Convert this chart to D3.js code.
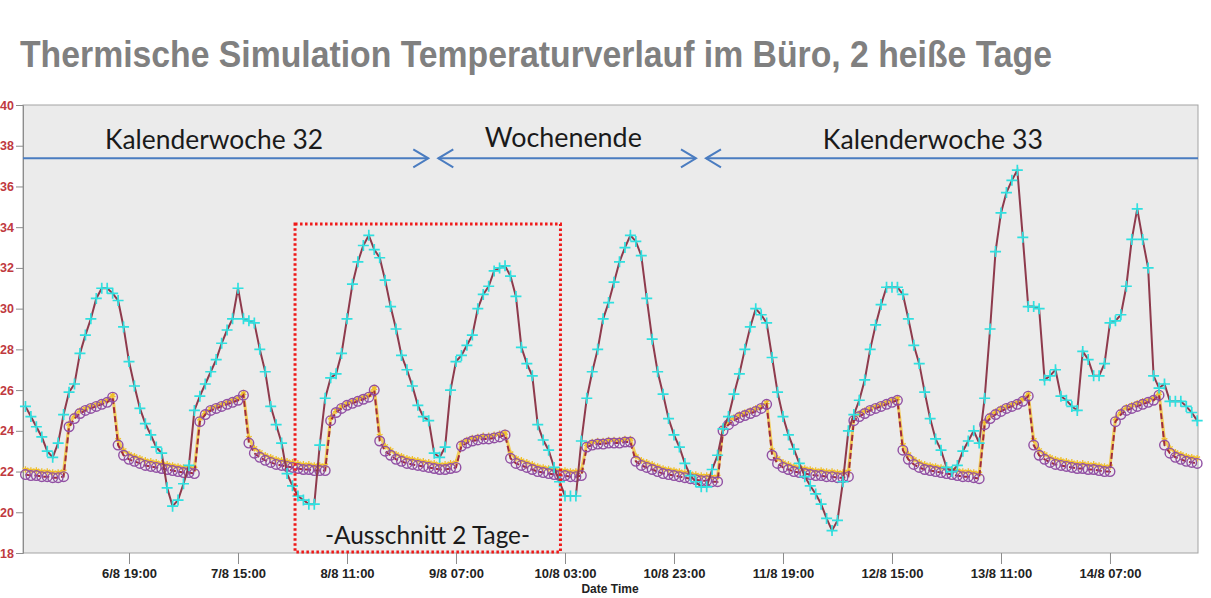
<!DOCTYPE html>
<html>
<head>
<meta charset="utf-8">
<script src="https://cdn.jsdelivr.net/npm/d3@7"></script>
<style>
  body { margin: 0; background: #fff; }
  svg { display: block; }
</style>
</head>
<body>
<div id="chart"></div>
<script>
// hourly values from 6/8 00:00, one row per day
var tempAussen = [
  25.2, 24.7, 24.2, 23.7, 23.0, 22.7, 23.4, 24.8, 25.9, 26.3, 27.8, 28.7, 29.5, 30.5, 31.0, 31.0, 30.75, 30.4, 29.1, 27.4, 26.2, 25.1, 24.35, 23.8,
  23.2, 22.9, 21.2, 20.3, 20.6, 21.4, 22.3, 25.0, 25.7, 26.3, 26.9, 27.5, 28.3, 28.95, 29.5, 31.0, 29.5, 29.4, 29.3, 28.0, 26.9, 25.2, 24.3, 23.4,
  21.9, 21.3, 20.8, 20.6, 20.4, 20.4, 23.3, 25.6, 26.6, 26.8, 27.8, 29.5, 31.2, 32.3, 33.1, 33.6, 32.9, 32.5, 31.4, 30.1, 29.0, 27.7, 27.0, 26.2,
  25.25, 24.7, 24.5, 22.9, 22.7, 23.2, 26.0, 27.4, 27.7, 28.2, 28.7, 30.0, 30.7, 31.1, 31.85, 32.0, 32.1, 31.6, 30.6, 28.1, 27.3, 26.7, 24.3, 23.55,
  23.05, 22.2, 21.5, 20.8, 20.8, 20.8, 23.5, 25.6, 26.9, 28.0, 29.5, 30.3, 31.3, 32.3, 33.0, 33.6, 33.3, 32.6, 30.5, 28.5, 26.9, 25.8, 24.6, 23.8,
  23.2, 22.4, 21.8, 21.5, 21.25, 21.25, 22.1, 22.8, 24.1, 24.7, 25.8, 26.8, 28.0, 29.1, 30.0, 29.7, 29.3, 27.6, 25.9, 24.7, 23.8, 23.1, 22.4, 21.75,
  21.3, 20.9, 20.4, 19.7, 19.1, 19.6, 21.5, 24.0, 24.8, 25.5, 26.5, 28.0, 29.2, 30.2, 31.05, 31.05, 31.05, 30.7, 29.5, 28.2, 27.3, 25.9, 24.6, 23.6,
  23.05, 22.2, 22.0, 22.3, 23.0, 23.5, 24.0, 23.4, 25.6, 29.0, 32.8, 34.7, 35.7, 36.3, 36.8, 33.5, 30.1, 30.1, 30.0, 26.5, 26.7, 27.0, 25.7, 25.5,
  25.2, 25.0, 27.9, 27.5, 26.7, 26.7, 27.3, 29.3, 29.4, 29.7, 31.1, 33.4, 34.9, 33.4, 32.0, 26.7, 26.1, 26.3, 25.45, 25.45, 25.45, 25.2, 24.9, 24.5
];

var tempRaum = [
  21.85, 21.8, 21.8, 21.75, 21.75, 21.7, 21.7, 21.75, 24.2, 24.6, 24.85, 25.0, 25.1, 25.2, 25.3, 25.4, 25.65, 23.3, 22.8, 22.6, 22.5, 22.4, 22.3, 22.25,
  22.2, 22.15, 22.1, 22.05, 22.0, 21.95, 21.95, 21.9, 24.45, 24.8, 25.0, 25.1, 25.2, 25.3, 25.4, 25.5, 25.75, 23.4, 22.9, 22.7, 22.55, 22.45, 22.35, 22.3,
  22.25, 22.2, 22.15, 22.1, 22.1, 22.05, 22.05, 22.05, 24.5, 24.9, 25.1, 25.25, 25.35, 25.45, 25.55, 25.65, 26.0, 23.5, 23.0, 22.8, 22.6, 22.5, 22.4, 22.35,
  22.3, 22.25, 22.2, 22.15, 22.1, 22.1, 22.15, 22.2, 23.25, 23.4, 23.5, 23.55, 23.6, 23.6, 23.65, 23.7, 23.8, 22.65, 22.4, 22.3, 22.2, 22.1, 22.0, 21.95,
  21.9, 21.85, 21.8, 21.8, 21.75, 21.75, 21.8, 23.2, 23.3, 23.35, 23.35, 23.4, 23.4, 23.4, 23.45, 23.45, 22.5, 22.3, 22.2, 22.1, 22.0, 21.9, 21.85, 21.8,
  21.75, 21.7, 21.65, 21.6, 21.55, 21.55, 21.5, 21.5, 24.0, 24.3, 24.5, 24.65, 24.75, 24.85, 24.95, 25.1, 25.3, 22.8, 22.4, 22.2, 22.1, 22.0, 21.95, 21.9,
  21.85, 21.8, 21.8, 21.75, 21.75, 21.7, 21.7, 21.75, 24.5, 24.7, 24.85, 25.0, 25.1, 25.2, 25.3, 25.4, 25.5, 23.05, 22.6, 22.35, 22.2, 22.1, 22.05, 22.0,
  21.95, 21.9, 21.85, 21.8, 21.75, 21.75, 21.7, 21.65, 24.3, 24.6, 24.8, 24.95, 25.1, 25.2, 25.3, 25.45, 25.7, 23.3, 22.8, 22.6, 22.45, 22.35, 22.3, 22.25,
  22.2, 22.15, 22.15, 22.1, 22.1, 22.05, 22.0, 22.0, 24.45, 24.8, 25.0, 25.1, 25.2, 25.3, 25.4, 25.5, 25.75, 23.3, 22.9, 22.7, 22.6, 22.5, 22.45, 22.4
];

var tempLuft = [
  22.1, 22.05, 22.05, 22.0, 22.0, 21.95, 21.95, 22.0, 24.35, 24.75, 25.0, 25.1, 25.2, 25.3, 25.4, 25.5, 25.75, 23.55, 23.05, 22.85, 22.75, 22.65, 22.55, 22.5,
  22.45, 22.4, 22.35, 22.3, 22.25, 22.2, 22.2, 22.15, 24.6, 24.9, 25.1, 25.2, 25.3, 25.4, 25.5, 25.6, 25.85, 23.65, 23.15, 22.95, 22.8, 22.7, 22.6, 22.55,
  22.5, 22.45, 22.4, 22.35, 22.35, 22.3, 22.3, 22.3, 24.65, 25.0, 25.2, 25.35, 25.45, 25.55, 25.65, 25.75, 26.1, 23.75, 23.25, 23.05, 22.85, 22.75, 22.65, 22.6,
  22.55, 22.5, 22.45, 22.4, 22.35, 22.35, 22.4, 22.45, 23.4, 23.55, 23.65, 23.7, 23.75, 23.75, 23.8, 23.85, 23.9, 22.9, 22.65, 22.55, 22.45, 22.35, 22.25, 22.2,
  22.15, 22.1, 22.05, 22.05, 22.0, 22.0, 22.05, 23.35, 23.45, 23.5, 23.5, 23.55, 23.55, 23.55, 23.6, 23.6, 22.75, 22.55, 22.45, 22.35, 22.25, 22.15, 22.1, 22.05,
  22.0, 21.95, 21.9, 21.85, 21.8, 21.8, 21.75, 21.75, 24.15, 24.45, 24.65, 24.8, 24.9, 25.0, 25.1, 25.2, 25.4, 23.05, 22.65, 22.45, 22.35, 22.25, 22.2, 22.15,
  22.1, 22.05, 22.05, 22.0, 22.0, 21.95, 21.95, 22.0, 24.65, 24.85, 25.0, 25.1, 25.2, 25.3, 25.4, 25.5, 25.6, 23.3, 22.85, 22.6, 22.45, 22.35, 22.3, 22.25,
  22.2, 22.15, 22.1, 22.05, 22.0, 22.0, 21.95, 21.9, 24.45, 24.75, 24.95, 25.1, 25.2, 25.3, 25.4, 25.55, 25.8, 23.55, 23.05, 22.85, 22.7, 22.6, 22.55, 22.5,
  22.45, 22.4, 22.4, 22.35, 22.35, 22.3, 22.25, 22.25, 24.6, 24.95, 25.15, 25.25, 25.35, 25.45, 25.5, 25.6, 25.85, 23.55, 23.15, 22.95, 22.85, 22.75, 22.7, 22.65
];

var xTickLabels = ["6/8 19:00", "7/8 15:00", "8/8 11:00", "9/8 07:00", "10/8 03:00",
                   "10/8 23:00", "11/8 19:00", "12/8 15:00", "13/8 11:00", "14/8 07:00"];
var yTicks = [18, 20, 22, 24, 26, 28, 30, 32, 34, 36, 38, 40];

// annotations (time, temperature)
var wochenLabels = [
  { text: "Kalenderwoche 32", t: "7/8 10:36", v: 37.82, w: 218 },
  { text: "Wochenende", t: "10/8 02:42", v: 37.92, w: 157 },
  { text: "Kalenderwoche 33", t: "12/8 22:30", v: 37.83, w: 220 }
];
var wochenPfeile = [
  { from: "5/8 23:33", to: "9/8 01:55", start: false, end: true },
  { from: "9/8 03:45", to: "11/8 03:02", start: true, end: true },
  { from: "11/8 04:52", to: "14/8 23:09", start: true, end: false }
];
var pfeilTemp = 37.38;
var ausschnitt = { from: "8/8 01:28", to: "10/8 02:10", top: 34.16, bottom: 18.05 };

var width = 1211, height = 598;
var plot = { left: 23, right: 1198, top: 105, bottom: 553 };

var parseT = function(s) { return d3.timeParse("%d/%m/%Y %H:%M")(s.replace(" ", "/2014 ")); };
var start = parseT("6/8 00:00");
var zeit = tempAussen.map(function(d, i) { return d3.timeHour.offset(start, i); });

var svg = d3.select("#chart").append("svg")
    .attr("width", width)
    .attr("height", height);

var x = d3.scaleTime()
    .domain([parseT("5/8 23:33"), parseT("14/8 23:09")])
    .range([plot.left, plot.right]);
var y = d3.scaleLinear()
    .domain([18, 40])
    .range([plot.bottom, plot.top]);

// title
svg.append("text")
    .attr("x", 20).attr("y", 67)
    .attr("textLength", 1032)
    .attr("lengthAdjust", "spacingAndGlyphs")
    .style("font-family", "'Liberation Sans', Arial, sans-serif")
    .style("font-weight", "bold")
    .style("font-size", "37px")
    .style("fill", "#808080")
    .text("Thermische Simulation Temperaturverlauf im Büro, 2 heiße Tage");

// plot background
svg.append("rect")
    .attr("x", plot.left).attr("y", plot.top)
    .attr("width", plot.right - plot.left).attr("height", plot.bottom - plot.top)
    .attr("fill", "#ebebeb")
    .attr("stroke", "#a3a3a3");

// y axis
var yAxis = svg.append("g")
    .attr("transform", "translate(" + plot.left + ",0)")
    .call(d3.axisLeft(y).tickValues(yTicks).tickSize(7).tickPadding(2).tickFormat(d3.format("d")));
yAxis.select(".domain").attr("stroke", "#8c8c8c");
yAxis.selectAll(".tick line").attr("stroke", "#8c8c8c");
yAxis.selectAll(".tick text")
    .style("font-family", "'Liberation Sans', Arial, sans-serif")
    .style("font-weight", "bold")
    .style("font-size", "12.5px")
    .attr("fill", "#c0393f");

// x axis
var xAxis = svg.append("g")
    .attr("transform", "translate(0," + plot.bottom + ")")
    .call(d3.axisBottom(x).tickValues(xTickLabels.map(parseT)).tickSize(11).tickPadding(5)
      .tickFormat(function(d) { return d3.timeFormat("%-d/%-m %H:%M")(d); }));
xAxis.select(".domain").remove();
xAxis.selectAll(".tick line").attr("stroke", "#8c8c8c");
xAxis.selectAll(".tick text")
    .style("font-family", "'Liberation Sans', Arial, sans-serif")
    .style("font-weight", "bold")
    .style("font-size", "13px")
    .attr("fill", "#222");

svg.append("text")
    .attr("x", 610).attr("y", 593)
    .attr("text-anchor", "middle")
    .style("font-family", "'Liberation Sans', Arial, sans-serif")
    .style("font-weight", "bold")
    .style("font-size", "12px")
    .style("fill", "#222")
    .text("Date Time");

// series
var g = svg.append("g");

var linie = d3.line()
    .x(function(d, i) { return x(zeit[i]); })
    .y(function(d) { return y(d); });

g.append("path")
    .datum(tempLuft)
    .attr("d", linie)
    .attr("fill", "none")
    .attr("stroke", "#f2c335")
    .attr("stroke-width", 3)
    .attr("opacity", 0.8);

g.selectAll(".luft")
    .data(tempLuft)
    .enter().append("path")
    .attr("class", "luft")
    .attr("transform", function(d, i) { return "translate(" + x(zeit[i]) + "," + y(d) + ")"; })
    .attr("d", d3.symbol(d3.symbolAsterisk, 30))
    .attr("fill", "none")
    .attr("stroke", "#f0bf2a")
    .attr("stroke-width", 1.3);

g.append("path")
    .datum(tempRaum)
    .attr("d", linie)
    .attr("fill", "none")
    .attr("stroke", "#a02c3c")
    .attr("stroke-width", 2)
    .attr("stroke-dasharray", "6,3");

g.selectAll(".raum")
    .data(tempRaum)
    .enter().append("circle")
    .attr("class", "raum")
    .attr("cx", function(d, i) { return x(zeit[i]); })
    .attr("cy", function(d) { return y(d); })
    .attr("r", 4.8)
    .attr("fill", "none")
    .attr("stroke", "#9150a4")
    .attr("stroke-width", 1.4);

g.append("path")
    .datum(tempAussen)
    .attr("d", linie)
    .attr("fill", "none")
    .attr("stroke", "#8e3a4c")
    .attr("stroke-width", 2);

g.selectAll(".aussen")
    .data(tempAussen)
    .enter().append("path")
    .attr("class", "aussen")
    .attr("transform", function(d, i) { return "translate(" + x(zeit[i]) + "," + y(d) + ")"; })
    .attr("d", "M-5.5,0H5.5M0,-5.5V5.5")
    .attr("stroke", "#2fe0e0")
    .attr("stroke-width", 1.7);

// week arrows
var blau = "#4a7cc0";
wochenPfeile.forEach(function(p) {
  var x0 = x(parseT(p.from)), x1 = x(parseT(p.to)), yy = y(pfeilTemp);
  svg.append("line")
      .attr("x1", x0).attr("x2", x1).attr("y1", yy).attr("y2", yy)
      .attr("stroke", blau).attr("stroke-width", 2);
  if (p.end) {
    svg.append("path")
        .attr("d", "M" + (x1 - 15) + "," + (yy - 9) + "L" + x1 + "," + yy + "L" + (x1 - 15) + "," + (yy + 9))
        .attr("fill", "none").attr("stroke", blau).attr("stroke-width", 2);
  }
  if (p.start) {
    svg.append("path")
        .attr("d", "M" + (x0 + 15) + "," + (yy - 9) + "L" + x0 + "," + yy + "L" + (x0 + 15) + "," + (yy + 9))
        .attr("fill", "none").attr("stroke", blau).attr("stroke-width", 2);
  }
});

wochenLabels.forEach(function(l) {
  svg.append("text")
      .attr("x", x(parseT(l.t)) - l.w / 2)
      .attr("y", y(l.v))
      .attr("textLength", l.w)
      .attr("lengthAdjust", "spacingAndGlyphs")
      .style("font-family", "Lato, 'Open Sans', sans-serif")
      .style("font-size", "27px")
      .style("fill", "#1a1a1a")
      .text(l.text);
});

// 2-day detail box
svg.append("rect")
    .attr("x", x(parseT(ausschnitt.from)))
    .attr("y", y(ausschnitt.top))
    .attr("width", x(parseT(ausschnitt.to)) - x(parseT(ausschnitt.from)))
    .attr("height", y(ausschnitt.bottom) - y(ausschnitt.top))
    .attr("fill", "none")
    .attr("stroke", "#f01818")
    .attr("stroke-width", 3)
    .attr("stroke-dasharray", "2.5,2.5");

svg.append("text")
    .attr("x", 325)
    .attr("y", y(18.44))
    .attr("textLength", 205)
    .attr("lengthAdjust", "spacingAndGlyphs")
    .style("font-family", "Lato, 'Open Sans', sans-serif")
    .style("font-size", "25px")
    .style("fill", "#1a1a1a")
    .text("-Ausschnitt 2 Tage-");
</script>
</body>
</html>
